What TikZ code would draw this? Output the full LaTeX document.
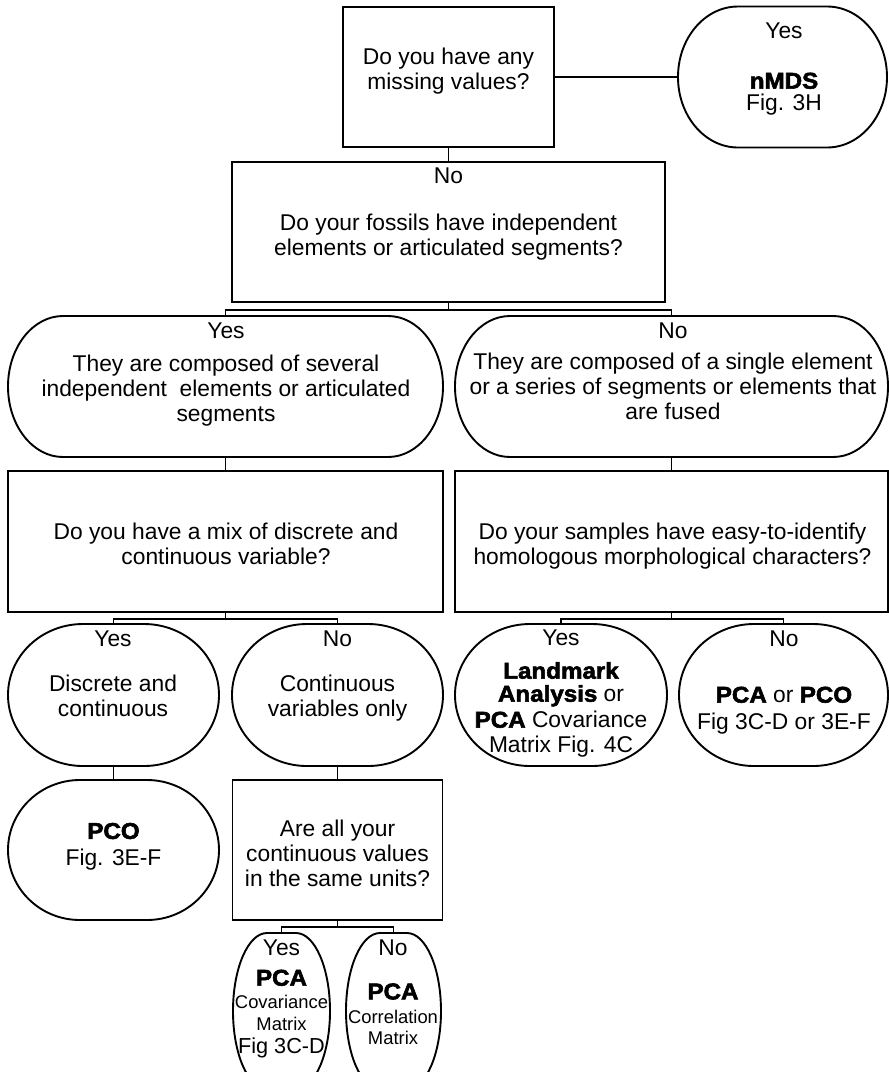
\documentclass[tikz,border=0pt]{standalone}
\usepackage{fontspec}
\setmainfont{Liberation Sans}
\newfontfamily\heavyfont[FakeBold=2.5,FakeStretch=1.06]{Liberation Sans Bold}
\newcommand{\hv}[1]{{\heavyfont #1}}
\newcommand{\smallsz}{\fontsize{18.4}{20}\selectfont}
\usetikzlibrary{calc}

% outline of a rounded answer: node, x radius, y radius
\newcommand{\ovaldraw}[3]{%
  \draw ($(#1.north west)+(#2,0)$) -- ($(#1.north east)+(-#2,0)$)
    arc[start angle=-90, end angle=0, x radius=#2, y radius=#3]
    -- ($(#1.south east)+(0,-#3)$)
    arc[start angle=0, end angle=90, x radius=#2, y radius=#3]
    -- ($(#1.south west)+(#2,0)$)
    arc[start angle=90, end angle=180, x radius=#2, y radius=#3]
    -- ($(#1.north west)+(0,#3)$)
    arc[start angle=180, end angle=270, x radius=#2, y radius=#3]
    -- cycle;}

\begin{document}
\begin{tikzpicture}[
    % GLOBAL CFG
    x=1pt, y=-1pt,
    font=\fontsize{22.8}{24.8}\selectfont,
    line width=1.9pt,
    % Styles
    question/.style={% For the question boxes
        rectangle,
        draw,
        inner sep=0pt,
        outer sep=0pt,
        },
    answer/.style={% For the answers, outline comes from \ovaldraw
        rectangle,
        inner sep=0pt,
        outer sep=0pt,
        },
    txt/.style={% For the texts
        anchor=north,
        align=center,
        inner sep=0pt,
        },
    ]

    \useasboundingbox (0,0) rectangle (889,1072);
    \clip (0,0) rectangle (889,1072);

    % Draw the question boxes named q#
    \node [question, minimum width=211, minimum height=140] (q1) at (448.5,77) {};
    \node [question, minimum width=433, minimum height=140] (q2) at (448.5,232) {};
    \node [question, minimum width=435, minimum height=141] (q3) at (225.5,541.5) {};
    \node [question, minimum width=433, minimum height=141] (q4) at (671.5,541.5) {};
    \node [question, minimum width=210, minimum height=140] (q5) at (337.5,850) {};

    % Draw the answers named yes# and no#
    \node [answer, minimum width=209, minimum height=141] (nmds) at (782.5,77) {};
    \node [answer, minimum width=435, minimum height=141] (yes1) at (225.5,386.5) {};
    \node [answer, minimum width=433, minimum height=141] (no1) at (671.5,386.5) {};
    \node [answer, minimum width=211, minimum height=142] (yes2) at (113.5,695) {};
    \node [answer, minimum width=211, minimum height=142] (no2) at (337.5,695) {};
    \node [answer, minimum width=212, minimum height=142] (yes3) at (561,695) {};
    \node [answer, minimum width=209, minimum height=142] (no3) at (783.5,695) {};
    \node [answer, minimum width=211, minimum height=140] (pco) at (113.5,850) {};
    \node [answer, minimum width=97, minimum height=156] (yes4) at (281.5,1011) {};
    \node [answer, minimum width=95, minimum height=156] (no4) at (393.5,1011) {};

    \ovaldraw{nmds}{60}{70.5}
    \ovaldraw{yes1}{55}{70.5}
    \ovaldraw{no1}{55}{70.5}
    \ovaldraw{yes2}{75}{71}
    \ovaldraw{no2}{75}{71}
    \ovaldraw{yes3}{75}{71}
    \ovaldraw{no3}{75}{71}
    \ovaldraw{pco}{72}{70}
    \ovaldraw{yes4}{34}{78}
    \ovaldraw{no4}{34}{78}

    % Texts, named as the shape with a t in front
    \node [txt] (tq1) at (448.5,47) {Do you have any\\missing values?};
    \node [txt] (tnmds) at (784,22) {Yes\\[25.2pt]\hv{nMDS}\\[-2.8pt]Fig. 3H};
    \node [txt] (tq2) at (448.5,167) {No\\[22.2pt]Do your fossils have independent\\elements or articulated segments?};
    \node [txt] (tyes1) at (226,322) {Yes\\[8.2pt]They are composed of several\\independent\ \ elements or articulated\\segments};
    \node [txt] (tno1) at (673,322) {No\\[6.2pt]They are composed of a single element\\or a series of segments or elements that\\are fused};
    \node [txt] (tq3) at (226,522) {Do you have a mix of discrete and\\continuous variable?};
    \node [txt] (tq4) at (672.5,522) {Do your samples have easy-to-identify\\homologous morphological characters?};
    \node [txt] (tyes2) at (113,630) {Yes\\[20.2pt]Discrete and\\continuous};
    \node [txt] (tno2) at (337.5,630) {No\\[20.2pt]Continuous\\variables only};
    \node [txt] (tyes3) at (561,629) {Yes\\[8.2pt]\hv{Landmark}\\[-1.8pt]\hv{Analysis} or\\[1.2pt]\hv{PCA} Covariance\\Matrix Fig. 4C};
    \node [txt] (tno3) at (784,630) {No\\[31.2pt]\hv{PCA} or \hv{PCO}\\[2.2pt]Fig 3C-D or 3E-F};
    \node [txt] (tpco) at (113.5,822) {\hv{PCO}\\[2.2pt]Fig. 3E-F};
    \node [txt] (tq5) at (337.5,819) {Are all your\\continuous values\\in the same units?};
    \node [txt] (tyes4) at (281.5,939) {Yes\\[5.2pt]\hv{PCA}\\[-1.9pt]{\smallsz Covariance}\\[-2.8pt]{\smallsz Matrix}\\[-1.7pt]{\fontsize{21.7}{24}\selectfont Fig 3C-D}};
    \node [txt] (tno4) at (393,939) {No\\[18.9pt]\hv{PCA}\\[-0.8pt]{\smallsz Correlation}\\[-3.8pt]{\smallsz Matrix}};

% Start connecting all.
    \draw (q1) -- (nmds);
    \draw (q1) -- (q2);
    \draw (q2.south) -- ++(0,8) -| (yes1.north);
    \draw (q2.south) -- ++(0,8) -| (no1.north);
    \draw (yes1) -- (q3);
    \draw (no1) -- (q4);
    \draw (q3.south) -- ++(0,7) -| (yes2.north);
    \draw (q3.south) -- ++(0,7) -| (no2.north);
    \draw (q4.south) -- ++(0,7) -| (yes3.north);
    \draw (q4.south) -- ++(0,7) -| (no3.north);
    \draw (yes2) -- (pco);
    \draw (no2) -- (q5);
    \draw (q5.south) -- ++(0,7) -| (yes4.north);
    \draw (q5.south) -- ++(0,7) -| (no4.north);

\end{tikzpicture}
\end{document}
